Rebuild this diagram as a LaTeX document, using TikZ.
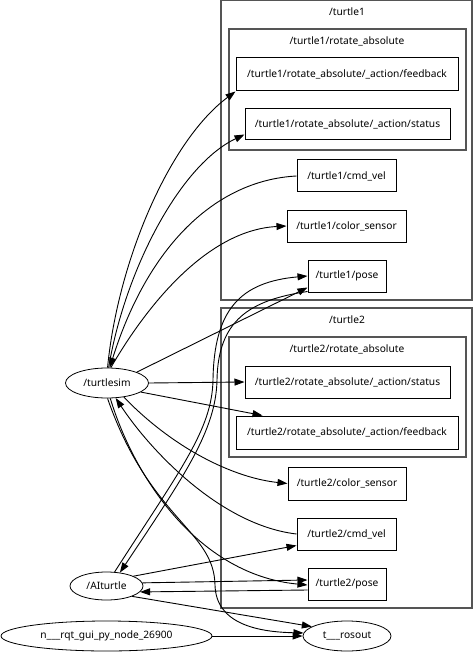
\documentclass[tikz,border=0pt]{standalone}
\usepackage{fontspec}
\setmainfont{Noto Sans}
\usetikzlibrary{arrows.meta,shapes.geometric}
\definecolor{grpgray}{RGB}{85,85,85}
\tikzset{
  topic/.style={draw,line width=1pt,inner sep=0pt},
  rosnode/.style={draw,ellipse,line width=0.8pt,inner sep=0pt},
  grp/.style={draw=grpgray,line width=1.3pt},
  lnk/.style={line width=0.9pt,-{Triangle[length=10pt,width=7pt]}}
}

\begin{document}
\begin{tikzpicture}[x=1pt,y=-1pt,font=\fontsize{10.2}{12}\selectfont]
  \useasboundingbox (0,0) rectangle (474,652);
  \draw[grp] (221,0.7) rectangle (472,300);
  \draw[grp] (229,29) rectangle (466,150);
  \draw[grp] (221,308) rectangle (472,608);
  \draw[grp] (229,337) rectangle (466,457);
  \node (g1) at (347,12) {/turtle1};
  \node (g1ra) at (347,41) {/turtle1/rotate\_absolute};
  \node (g2) at (347,320) {/turtle2};
  \node (g2ra) at (347,349) {/turtle2/rotate\_absolute};

  \node[topic,minimum width=222pt,minimum height=33pt] (t1fb) at (347,74.5) {/turtle1/rotate\_absolute/\_action/feedback};
  \node[topic,minimum width=205pt,minimum height=31pt] (t1st) at (347.5,124.5) {/turtle1/rotate\_absolute/\_action/status};
  \node[topic,minimum width=99pt,minimum height=32pt] (t1cmd) at (346.5,176) {/turtle1/cmd\_vel};
  \node[topic,minimum width=119pt,minimum height=32pt] (t1col) at (346.5,226) {/turtle1/color\_sensor};
  \node[topic,minimum width=78pt,minimum height=32pt] (t1pose) at (347,276) {/turtle1/pose};
  \node[topic,minimum width=205pt,minimum height=32pt] (t2st) at (347.5,382) {/turtle2/rotate\_absolute/\_action/status};
  \node[topic,minimum width=222pt,minimum height=33pt] (t2fb) at (347,432.5) {/turtle2/rotate\_absolute/\_action/feedback};
  \node[topic,minimum width=118pt,minimum height=33pt] (t2col) at (347,483.5) {/turtle2/color\_sensor};
  \node[topic,minimum width=99pt,minimum height=32pt] (t2cmd) at (346.5,534) {/turtle2/cmd\_vel};
  \node[topic,minimum width=78pt,minimum height=32pt] (t2pose) at (347,584) {/turtle2/pose};

  \node[rosnode,minimum width=83pt,minimum height=30pt] (sim) at (107,383) {/turtlesim};
  \node[rosnode,minimum width=73pt,minimum height=28pt] (ai) at (106.5,586) {/AIturtle};
  \node[rosnode,minimum width=211pt,minimum height=30pt] (rqt) at (106.5,636) {n\_\_\_rqt\_gui\_py\_node\_26900};
  \node[rosnode,minimum width=88pt,minimum height=30pt] (rosout) at (347,636) {t\_\_\_rosout};

  \draw[lnk] (sim.88) .. controls (118,260) and (170,140) .. (t1fb.south west);
  \draw[lnk] (sim.84) .. controls (125,270) and (180,165) .. ([yshift=6pt]t1st.south west);
  \draw[lnk] (t1cmd.west) .. controls (220,180) and (150,240) .. (sim.80);
  \draw[lnk] (sim.76) .. controls (150,300) and (210,230) .. (t1col.west);
  \draw[lnk] (sim.20) -- ([yshift=5pt]t1pose.south west);
  \draw[lnk] (ai.60) .. controls (180,470) and (212,430) .. (213,380) .. controls (214,310) and (240,282) .. (t1pose.west);
  \draw[lnk] ([yshift=1pt]t1pose.south west) .. controls (250,300) and (218,320) .. (217,380) .. controls (216,430) and (185,475) .. (ai.45);
  \draw[lnk] (sim.0) -- (t2st.west);
  \draw[lnk] (sim.-15) -- ([xshift=27pt]t2fb.north west);
  \draw[lnk] (sim.-40) .. controls (175,450) and (235,478) .. (t2col.west);
  \draw[lnk] (t2cmd.west) .. controls (220,525) and (150,450) .. (sim.-60);
  \draw[lnk] (sim.-78) .. controls (135,480) and (200,575) .. ([yshift=-1pt]t2pose.west);
  \draw[lnk] (sim.-88) .. controls (150,520) and (214,530) .. (215,585) .. controls (216,625) and (260,632) .. (rosout.176);
  \draw[lnk] (ai.20) -- ([yshift=5pt]t2cmd.south west);
  \draw[lnk] (ai.5) -- ([yshift=4pt]t2pose.west);
  \draw[lnk] ([yshift=-6pt]t2pose.west) -- (ai.-10);
  \draw[lnk] (ai.-22) -- (rosout.165);
  \draw[lnk] (rqt) -- (rosout);
\end{tikzpicture}
\end{document}
